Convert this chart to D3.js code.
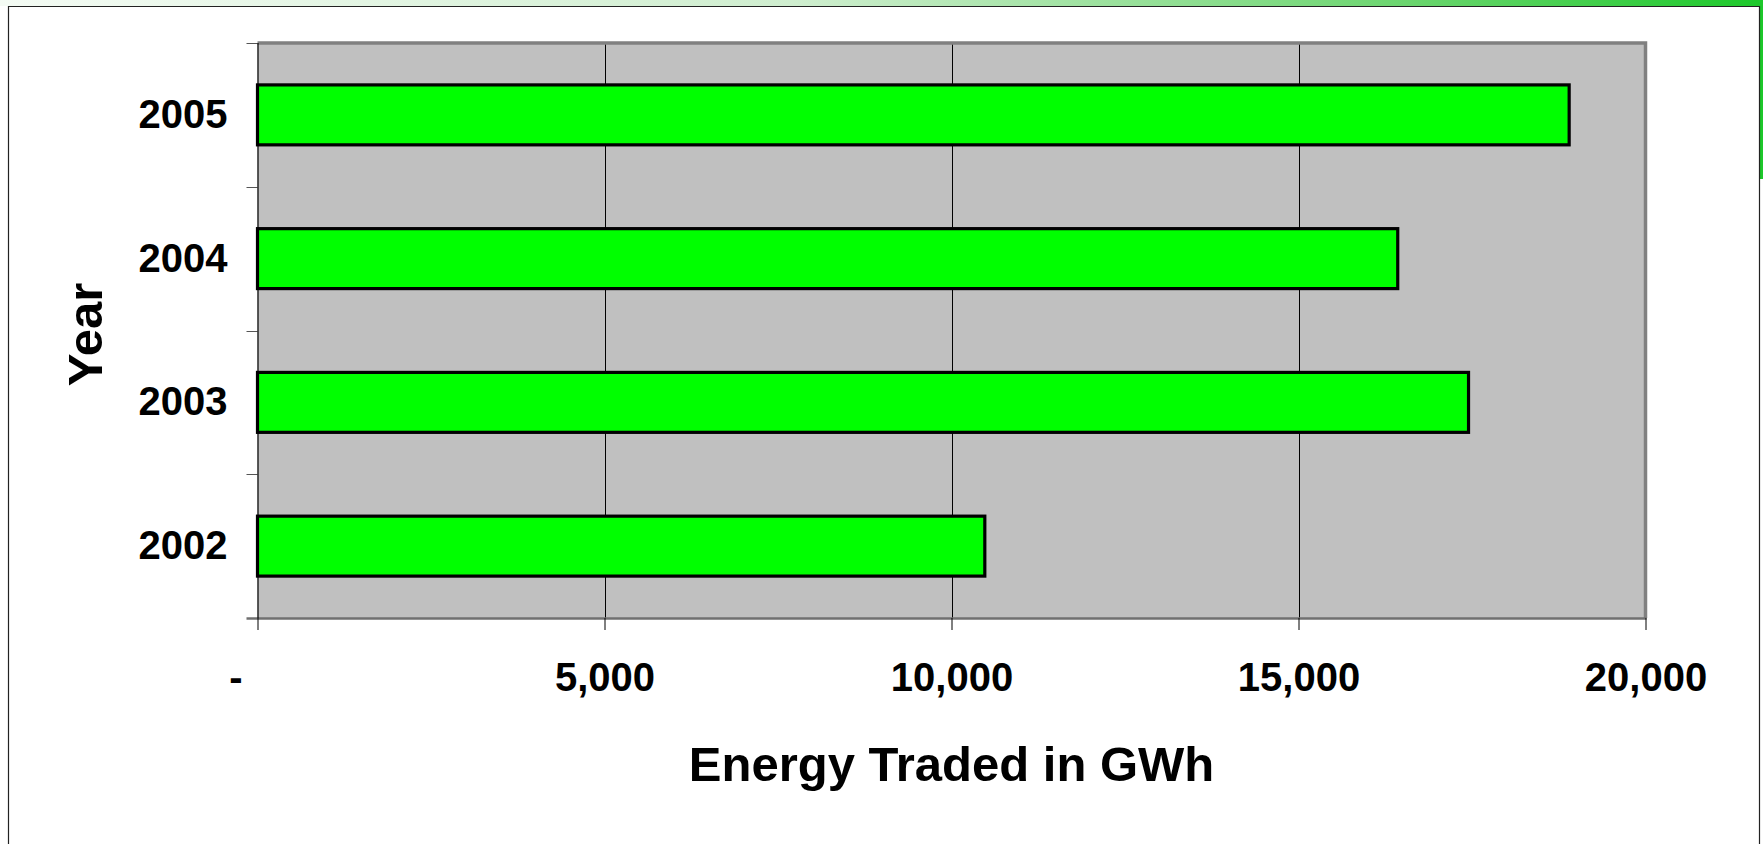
<!DOCTYPE html>
<html>
<head>
<meta charset="utf-8">
<script src="https://cdn.jsdelivr.net/npm/d3@7"></script>
<style>
html,body{margin:0;padding:0;background:#fff;}
svg{display:block;}
text{font-family:"Liberation Sans",Arial,sans-serif;font-weight:bold;fill:#000;}
</style>
</head>
<body>
<svg id="chart" width="1763" height="844"></svg>
<script>
// Data
const years = ["2005", "2004", "2003", "2002"];
const energyGWh = [18900, 16430, 17450, 10480];
const xTickValues = [0, 5000, 10000, 15000, 20000];
const xTitle = "Energy Traded in GWh";
const yTitle = "Year";

const W = 1763, H = 844;
const plot = {left: 257.5, right: 1645.5, top: 43, bottom: 618};

const svg = d3.select("#chart");

// Decorative slide background: top gradient band, right strip, frame
const defs = svg.append("defs");
const grad = defs.append("linearGradient").attr("id", "topband").attr("x1", "0").attr("x2", "1").attr("y1", "0").attr("y2", "0");
grad.append("stop").attr("offset", "0").attr("stop-color", "#f4fbf4");
grad.append("stop").attr("offset", "0.45").attr("stop-color", "#cfeecf");
grad.append("stop").attr("offset", "0.8").attr("stop-color", "#6ad56e");
grad.append("stop").attr("offset", "1").attr("stop-color", "#1cc82a");
svg.append("rect").attr("x", 0).attr("y", 0).attr("width", W).attr("height", 6).attr("fill", "url(#topband)");
svg.append("rect").attr("x", 1760).attr("y", 0).attr("width", 3).attr("height", 179).attr("fill", "#1cc82a");
svg.append("path")
  .attr("d", `M8.5,${H + 5} V6.5 H1759.5 V${H + 5}`)
  .attr("fill", "none").attr("stroke", "#222").attr("stroke-width", 1.2);

// Scales
const x = d3.scaleLinear().domain([0, 20000]).range([plot.left, plot.right]);
const y = d3.scaleBand().domain(years).range([plot.top, plot.bottom])
  .paddingInner(0.583).paddingOuter(0.2915);

// Plot area
svg.append("rect")
  .attr("x", plot.left).attr("y", plot.top)
  .attr("width", plot.right - plot.left).attr("height", plot.bottom - plot.top)
  .attr("fill", "#c0c0c0");

// Gridlines
svg.append("g").selectAll("line")
  .data(xTickValues.filter(v => v > 0 && v < 20000))
  .join("line")
  .attr("x1", d => Math.round(x(d)) + 0.5).attr("x2", d => Math.round(x(d)) + 0.5)
  .attr("y1", plot.top).attr("y2", plot.bottom)
  .attr("stroke", "#000").attr("stroke-width", 1);

// Plot border (top/right grey)
svg.append("path")
  .attr("d", `M${plot.left},${plot.top} H${plot.right} V${plot.bottom}`)
  .attr("fill", "none").attr("stroke", "#808080").attr("stroke-width", 3.5);

// Bars
svg.append("g").selectAll("rect")
  .data(years.map((yr, i) => ({year: yr, value: energyGWh[i]})))
  .join("rect")
  .attr("x", x(0))
  .attr("y", d => y(d.year))
  .attr("width", d => x(d.value) - x(0))
  .attr("height", y.bandwidth())
  .attr("fill", "#00ff00")
  .attr("stroke", "#000")
  .attr("stroke-width", 3.2);

// X axis
const xAxis = d3.axisBottom(x)
  .tickValues(xTickValues)
  .tickSize(12)
  .tickSizeOuter(0)
  .tickFormat(d => d === 0 ? "-" : d3.format(",")(d));
const gx = svg.append("g").attr("transform", `translate(0,${plot.bottom})`).call(xAxis);
gx.select(".domain").attr("stroke", "#707070").attr("stroke-width", 2.5)
  .attr("d", `M${plot.left - 11},0.5H${plot.right + 1}`);
gx.selectAll(".tick line").attr("stroke", "#000").attr("stroke-width", 1);
gx.selectAll(".tick text")
  .attr("y", 73).attr("dy", 0)
  .attr("font-size", 40)
  .style("font-family", '"Liberation Sans",Arial,sans-serif')
  .style("font-weight", "bold")
  .attr("fill", "#000")
  .attr("dx", d => d === 0 ? -22 : 0);

// Y axis: ticks at category boundaries
const step = y.step();
const boundaries = d3.range(years.length + 1).map(i => plot.top + i * step);
svg.append("g").selectAll("line")
  .data(boundaries.slice(0, -1))
  .join("line")
  .attr("x1", plot.left - 11).attr("x2", plot.left)
  .attr("y1", d => Math.round(d) + 0.5).attr("y2", d => Math.round(d) + 0.5)
  .attr("stroke", "#555").attr("stroke-width", 1);

const yAxis = d3.axisLeft(y).tickSize(0).tickPadding(30);
const gy = svg.append("g").attr("transform", `translate(${plot.left},0)`).call(yAxis);
gy.select(".domain").attr("stroke", "#000").attr("stroke-width", 1.2)
  .attr("d", `M0.5,${plot.top}V${plot.bottom}`);
gy.selectAll(".tick text")
  .attr("font-size", 40)
  .attr("dy", 13)
  .style("font-family", '"Liberation Sans",Arial,sans-serif')
  .style("font-weight", "bold")
  .attr("fill", "#000");

// Axis titles
svg.append("text")
  .attr("x", (plot.left + plot.right) / 2)
  .attr("y", 781)
  .attr("text-anchor", "middle")
  .attr("font-size", 49)
  .text(xTitle);

svg.append("text")
  .attr("transform", `translate(102,334.5) rotate(-90)`)
  .attr("text-anchor", "middle")
  .attr("font-size", 49)
  .text(yTitle);
</script>
</body>
</html>
